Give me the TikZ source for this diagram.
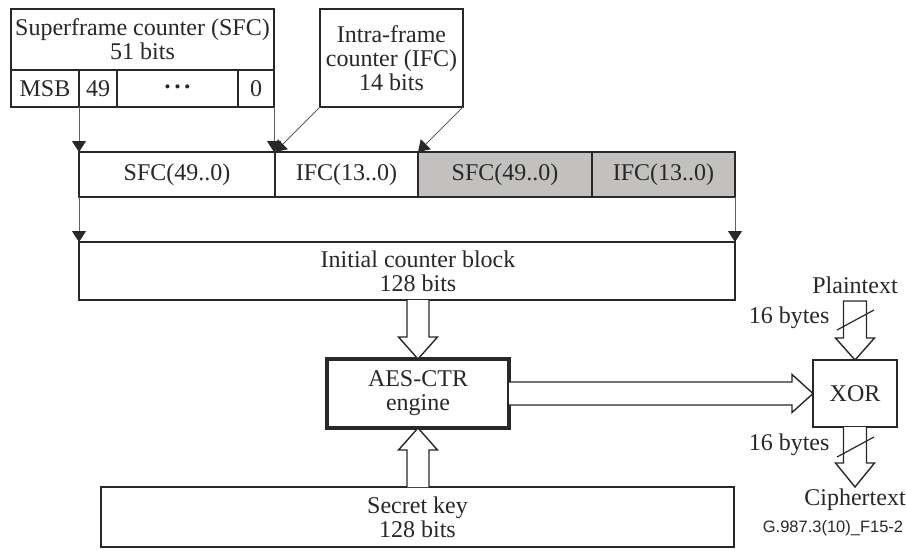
\documentclass[tikz,border=0pt]{standalone}
\usepackage{fontspec}
\setmainfont{Liberation Serif}
\newfontfamily\labelsans{Liberation Sans}
\usetikzlibrary{arrows.meta,calc}
\definecolor{cellgray}{RGB}{194,193,191}
\definecolor{ink}{RGB}{40,40,40}
\definecolor{wire}{RGB}{95,95,95}
\begin{document}
\begin{tikzpicture}[x=1pt,y=-1pt,
  txt/.style={font=\fontsize{24}{24}\selectfont, align=center, text=ink},
  box/.style={txt, draw=ink, line width=1.4pt, inner sep=0pt, outer sep=0pt, anchor=north west},
  wirearrow/.style={draw=wire, line width=1pt, -{Triangle[width=14pt,length=11pt,color=ink]}},
  hollow/.style={draw=ink, line width=1.4pt, fill=white, line join=miter},
  slash/.style={draw=ink, line width=1.2pt}
]
\useasboundingbox[fill=white] (0,0) rectangle (907,549);

% Superframe counter
\node[box, minimum width=263pt, minimum height=61pt] (sfc) at (11,9) {Superframe counter (SFC)\\51 bits};
\node[box, minimum width=68pt, minimum height=37pt] (msb) at (11,70) {MSB};
\node[box, minimum width=38pt, minimum height=37pt] (b49) at (79,70) {49};
\node[box, minimum width=121pt, minimum height=37pt, font=\fontsize{17}{17}\selectfont] (dots) at (117,70) {•\hspace{4pt}•\hspace{4pt}•};
\node[box, minimum width=36pt, minimum height=37pt] (b0) at (238,70) {0};

% Intra-frame counter
\node[box, minimum width=143pt, minimum height=98pt] (ifc) at (320,9) {Intra-frame\\counter (IFC)\\14 bits};

% Counter row
\node[box, minimum width=196pt, minimum height=45pt] (csfc) at (79,152) {SFC(49..0)};
\node[box, minimum width=143pt, minimum height=45pt] (cifc) at (275,152) {IFC(13..0)};
\node[box, fill=cellgray, minimum width=174pt, minimum height=45pt] (gsfc) at (418,152) {SFC(49..0)};
\node[box, fill=cellgray, minimum width=143pt, minimum height=45pt] (gifc) at (592,152) {IFC(13..0)};

% Initial counter block
\node[box, minimum width=656pt, minimum height=58pt] (icb) at (79,242) {};
\node[txt] (icbt) at (418,271) {Initial counter block\\128 bits};

% AES engine, XOR, key
\node[box, line width=3.2pt, minimum width=182pt, minimum height=69pt] (aes) at (327,359) {AES-CTR\\engine};
\node[box, minimum width=84pt, minimum height=67pt] (xor) at (813,360) {XOR};
\node[box, minimum width=633pt, minimum height=60pt] (key) at (101,487) {Secret key\\128 bits};

% Labels
\node[txt] (plain) at (855,285) {Plaintext};
\node[txt] (cipher) at (855,500) {Ciphertext};
\node[txt, anchor=east] (nb1) at (833,318) {16 bytes};
\node[txt, anchor=east] (nb2) at (833,445) {16 bytes};
\node[font=\labelsans\fontsize{16.5}{16.5}\selectfont, text=ink] (fig) at (833,528) {G.987.3(10)\_F15-2};

\coordinate (pin) at (855,301);
\coordinate (cout) at (855,487);

% Wire arrows
\draw[wirearrow] (msb.south east) -- (csfc.north west);
\draw[wirearrow] (b0.south east) -- (b0.south east |- cifc.north west);
\draw[wirearrow] (ifc.south west) -- (cifc.north west);
\draw[wirearrow] (ifc.south east) -- (gsfc.north west);
\draw[wirearrow] (csfc.south west) -- (icb.north west);
\draw[wirearrow] (gifc.south east) -- (icb.north east);

% Hollow arrows
\coordinate (s1) at (icb.south -| aes.north);
\draw[hollow] ($(s1)+(-11,0)$) -- ($(aes.north)+(-11,-22)$) -- ($(aes.north)+(-19.5,-22)$) -- (aes.north)
  -- ($(aes.north)+(19.5,-22)$) -- ($(aes.north)+(11,-22)$) -- ($(s1)+(11,0)$);

\coordinate (s2) at (key.north -| aes.south);
\draw[hollow] ($(s2)+(-11,0)$) -- ($(aes.south)+(-11,22)$) -- ($(aes.south)+(-19.5,22)$) -- (aes.south)
  -- ($(aes.south)+(19.5,22)$) -- ($(aes.south)+(11,22)$) -- ($(s2)+(11,0)$);

\draw[hollow] ($(aes.east)+(0,-11.5)$) -- ($(xor.west)+(-21,-11.5)$) -- ($(xor.west)+(-21,-19)$) -- (xor.west)
  -- ($(xor.west)+(-21,19)$) -- ($(xor.west)+(-21,11.5)$) -- ($(aes.east)+(0,11.5)$);

\draw[hollow] ($(pin)+(-11.5,0)$) -- ($(xor.north)+(-11.5,-22)$) -- ($(xor.north)+(-19.5,-22)$) -- (xor.north)
  -- ($(xor.north)+(19.5,-22)$) -- ($(xor.north)+(11.5,-22)$) -- ($(pin)+(11.5,0)$) -- cycle;

\draw[hollow] ($(xor.south)+(-11.5,0)$) -- ($(cout)+(-11.5,-24)$) -- ($(cout)+(-19.5,-24)$) -- (cout)
  -- ($(cout)+(19.5,-24)$) -- ($(cout)+(11.5,-24)$) -- ($(xor.south)+(11.5,0)$);

% Bus-width slashes
\draw[slash] (837,330) -- (874,310);
\draw[slash] (837,457) -- (874,437);
\end{tikzpicture}
\end{document}
